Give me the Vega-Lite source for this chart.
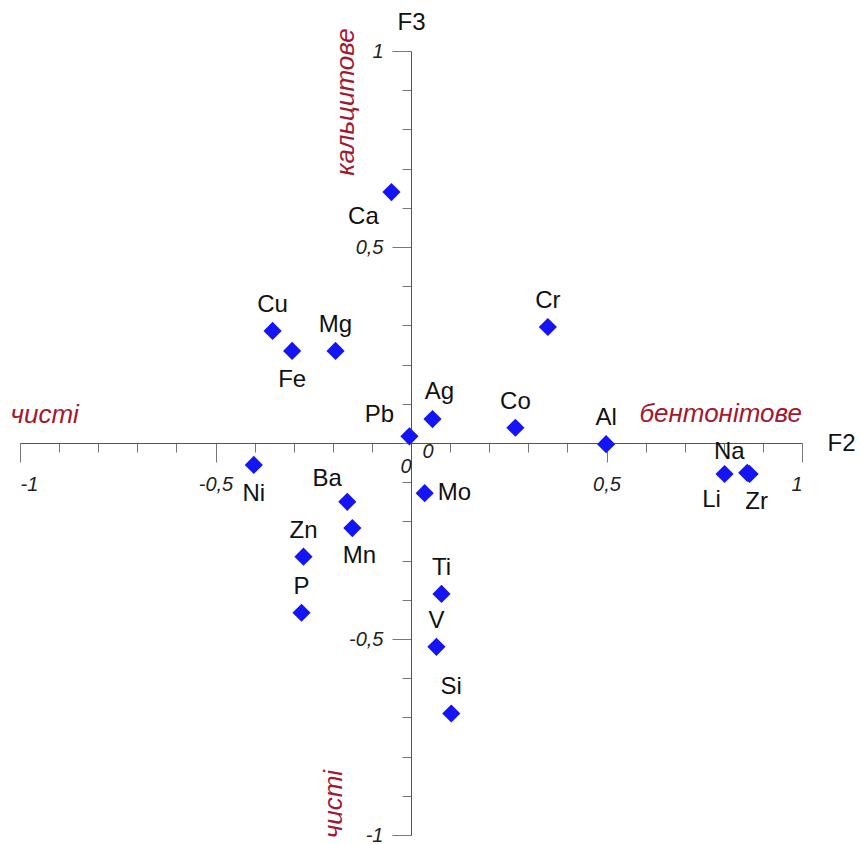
{
  "$schema": "https://vega.github.io/schema/vega-lite/v6.json",
  "width": 782,
  "height": 784,
  "autosize": {"type": "none"},
  "padding": {"left": 20, "top": 51, "right": 61, "bottom": 9},
  "background": "white",
  "config": {"view": {"stroke": null}, "font": "Liberation Sans"},
  "datasets": {
    "elements": [
      {"el": "Ca", "x": -0.050, "y": 0.640},
      {"el": "Cu", "x": -0.354, "y": 0.286},
      {"el": "Fe", "x": -0.304, "y": 0.235},
      {"el": "Mg", "x": -0.193, "y": 0.235},
      {"el": "Cr", "x": 0.350, "y": 0.296},
      {"el": "Ag", "x": 0.055, "y": 0.061},
      {"el": "Pb", "x": -0.004, "y": 0.017},
      {"el": "Co", "x": 0.267, "y": 0.039},
      {"el": "Al", "x": 0.499, "y": -0.003},
      {"el": "Li", "x": 0.802, "y": -0.079},
      {"el": "Na", "x": 0.860, "y": -0.076},
      {"el": "Zr", "x": 0.866, "y": -0.079},
      {"el": "Ni", "x": -0.402, "y": -0.056},
      {"el": "Ba", "x": -0.163, "y": -0.150},
      {"el": "Mo", "x": 0.035, "y": -0.128},
      {"el": "Mn", "x": -0.150, "y": -0.217},
      {"el": "Zn", "x": -0.275, "y": -0.290},
      {"el": "P", "x": -0.280, "y": -0.433},
      {"el": "Ti", "x": 0.078, "y": -0.385},
      {"el": "V", "x": 0.065, "y": -0.520},
      {"el": "Si", "x": 0.103, "y": -0.690}
    ],
    "notesFlat": [
      {"t": "чисті", "x": -0.937, "y": 0.071},
      {"t": "бентонітове", "x": 0.792, "y": 0.074}
    ],
    "notesUpright": [
      {"t": "кальцитове", "x": -0.165, "y": 0.870},
      {"t": "чисті", "x": -0.196, "y": -0.921}
    ],
    "origin": [{"x": 0, "y": 0}]
  },
  "encoding": {
    "x": {
      "field": "x",
      "type": "quantitative",
      "scale": {"domain": [-1, 1], "nice": false, "zero": false},
      "axis": {
        "orient": "bottom",
        "offset": -392,
        "grid": false,
        "values": [-1, -0.9, -0.8, -0.7, -0.6, -0.5, -0.4, -0.3, -0.2, -0.1, 0, 0.1, 0.2, 0.3, 0.4, 0.5, 0.6, 0.7, 0.8, 0.9, 1],
        "labelExpr": "abs(datum.value) > 0.49 && abs(datum.value * 2 - round(datum.value * 2)) < 0.001 ? replace(toString(datum.value), '.', ',') : ''",
        "tickSize": {"condition": {"test": "abs(datum.value) > 0.49 && abs(datum.value * 2 - round(datum.value * 2)) < 0.001", "value": 19}, "value": 9},
        "labelFont": "Liberation Sans",
        "labelFontStyle": "italic",
        "labelFontSize": 20,
        "labelColor": "#222",
        "labelPadding": 12,
        "labelOverlap": false,
        "domainColor": "#555",
        "tickColor": "#777",
        "title": "F2",
        "titleFont": "Liberation Sans",
        "titleFontSize": 24,
        "titleFontWeight": "normal",
        "titleColor": "#111",
        "titleAngle": 0,
        "titleAlign": "center",
        "titleBaseline": "middle",
        "titleX": 821,
        "titleY": 0
      }
    },
    "y": {
      "field": "y",
      "type": "quantitative",
      "scale": {"domain": [-1, 1], "nice": false, "zero": false},
      "axis": {
        "orient": "left",
        "offset": -391,
        "grid": false,
        "values": [-1, -0.9, -0.8, -0.7, -0.6, -0.5, -0.4, -0.3, -0.2, -0.1, 0, 0.1, 0.2, 0.3, 0.4, 0.5, 0.6, 0.7, 0.8, 0.9, 1],
        "labelExpr": "abs(datum.value) > 0.49 && abs(datum.value * 2 - round(datum.value * 2)) < 0.001 ? replace(toString(datum.value), '.', ',') : ''",
        "tickSize": {"condition": {"test": "abs(datum.value) > 0.49 && abs(datum.value * 2 - round(datum.value * 2)) < 0.001", "value": 19}, "value": 9},
        "labelFont": "Liberation Sans",
        "labelFontStyle": "italic",
        "labelFontSize": 20,
        "labelColor": "#222",
        "labelPadding": 9,
        "labelOverlap": false,
        "domainColor": "#555",
        "tickColor": "#777",
        "title": "F3",
        "titleFont": "Liberation Sans",
        "titleFontSize": 24,
        "titleFontWeight": "normal",
        "titleColor": "#111",
        "titleAngle": 0,
        "titleAlign": "center",
        "titleBaseline": "middle",
        "titleX": 0,
        "titleY": -29
      }
    }
  },
  "layer": [
    {
      "data": {"name": "origin"},
      "mark": {"type": "text", "text": "0", "font": "Liberation Sans", "fontStyle": "italic", "fontSize": 20, "color": "#222", "dx": -5, "dy": 24, "baseline": "middle", "align": "center"}
    },
    {
      "data": {"name": "origin"},
      "mark": {"type": "text", "text": "0", "font": "Liberation Sans", "fontStyle": "italic", "fontSize": 20, "color": "#222", "dx": 17, "dy": 9, "baseline": "middle", "align": "center"}
    },
    {
      "data": {"name": "notesFlat"},
      "mark": {"type": "text", "font": "Liberation Sans", "fontStyle": "italic", "fontSize": 26, "color": "#a3172f", "baseline": "middle", "align": "center"},
      "encoding": {"text": {"field": "t"}}
    },
    {
      "data": {"name": "notesUpright"},
      "mark": {"type": "text", "font": "Liberation Sans", "fontStyle": "italic", "fontSize": 26, "color": "#a3172f", "baseline": "middle", "align": "center", "angle": 270},
      "encoding": {"text": {"field": "t"}}
    },
    {
      "data": {"name": "elements"},
      "mark": {"type": "point", "shape": "diamond", "filled": true, "size": 330, "color": "#1414f5", "opacity": 1}
    },
    {
      "data": {"name": "elements"},
      "transform": [{"filter": "indexof(['Cu','Mg','Cr','Co','Al','Zn','P','Ti','V','Si'], datum.el) >= 0"}],
      "mark": {"type": "text", "font": "Liberation Sans", "fontSize": 24, "color": "#111", "baseline": "middle", "align": "center", "dy": -26},
      "encoding": {"text": {"field": "el"}}
    },
    {
      "data": {"name": "elements"},
      "transform": [{"filter": "indexof(['Fe','Ni'], datum.el) >= 0"}],
      "mark": {"type": "text", "font": "Liberation Sans", "fontSize": 24, "color": "#111", "baseline": "middle", "align": "center", "dy": 29},
      "encoding": {"text": {"field": "el"}}
    },
    {
      "data": {"name": "elements"},
      "transform": [{"filter": "datum.el == 'Mn'"}],
      "mark": {"type": "text", "font": "Liberation Sans", "fontSize": 24, "color": "#111", "baseline": "middle", "align": "center", "dx": 7, "dy": 28},
      "encoding": {"text": {"field": "el"}}
    },
    {
      "data": {"name": "elements"},
      "transform": [{"filter": "datum.el == 'Ag'"}],
      "mark": {"type": "text", "font": "Liberation Sans", "fontSize": 24, "color": "#111", "baseline": "middle", "align": "center", "dx": 7, "dy": -27},
      "encoding": {"text": {"field": "el"}}
    },
    {
      "data": {"name": "elements"},
      "transform": [{"filter": "datum.el == 'Pb'"}],
      "mark": {"type": "text", "font": "Liberation Sans", "fontSize": 24, "color": "#111", "baseline": "middle", "align": "center", "dx": -30, "dy": -21},
      "encoding": {"text": {"field": "el"}}
    },
    {
      "data": {"name": "elements"},
      "transform": [{"filter": "datum.el == 'Ca'"}],
      "mark": {"type": "text", "font": "Liberation Sans", "fontSize": 24, "color": "#111", "baseline": "middle", "align": "center", "dx": -28, "dy": 25},
      "encoding": {"text": {"field": "el"}}
    },
    {
      "data": {"name": "elements"},
      "transform": [{"filter": "datum.el == 'Ba'"}],
      "mark": {"type": "text", "font": "Liberation Sans", "fontSize": 24, "color": "#111", "baseline": "middle", "align": "center", "dx": -20, "dy": -23},
      "encoding": {"text": {"field": "el"}}
    },
    {
      "data": {"name": "elements"},
      "transform": [{"filter": "datum.el == 'Mo'"}],
      "mark": {"type": "text", "font": "Liberation Sans", "fontSize": 24, "color": "#111", "baseline": "middle", "align": "left", "dx": 13, "dy": 0},
      "encoding": {"text": {"field": "el"}}
    },
    {
      "data": {"name": "elements"},
      "transform": [{"filter": "datum.el == 'Na'"}],
      "mark": {"type": "text", "font": "Liberation Sans", "fontSize": 24, "color": "#111", "baseline": "middle", "align": "center", "dx": -18, "dy": -21},
      "encoding": {"text": {"field": "el"}}
    },
    {
      "data": {"name": "elements"},
      "transform": [{"filter": "datum.el == 'Li'"}],
      "mark": {"type": "text", "font": "Liberation Sans", "fontSize": 24, "color": "#111", "baseline": "middle", "align": "center", "dx": -13, "dy": 26},
      "encoding": {"text": {"field": "el"}}
    },
    {
      "data": {"name": "elements"},
      "transform": [{"filter": "datum.el == 'Zr'"}],
      "mark": {"type": "text", "font": "Liberation Sans", "fontSize": 24, "color": "#111", "baseline": "middle", "align": "center", "dx": 7, "dy": 28},
      "encoding": {"text": {"field": "el"}}
    }
  ]
}
